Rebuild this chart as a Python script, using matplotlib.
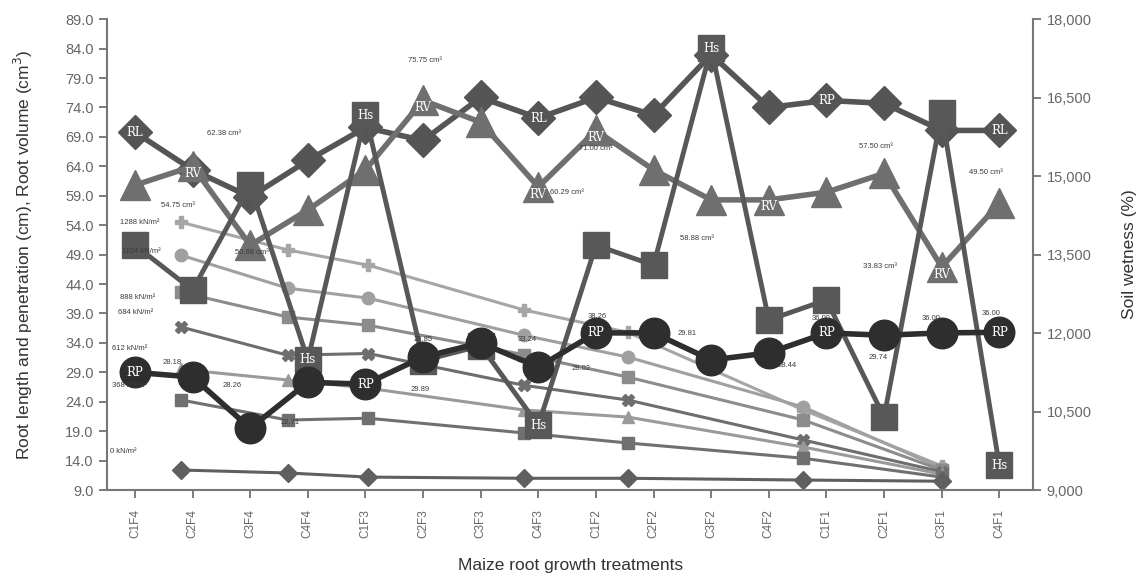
import numpy as np
import matplotlib
matplotlib.use('Agg')
import matplotlib.pyplot as plt
from matplotlib.ticker import FuncFormatter

plt.rcParams['font.family'] = ['Liberation Sans', 'DejaVu Sans']

# Perlakuan (sumbu x)
treatments = ['C1F4', 'C2F4', 'C3F4', 'C4F4', 'C1F3', 'C2F3', 'C3F3', 'C4F3',
              'C1F2', 'C2F2', 'C3F2', 'C4F2', 'C1F1', 'C2F1', 'C3F1', 'C4F1']

# Seri utama
root_length = [69.8, 63.4, 58.8, 65.0, 70.6, 68.4, 75.7, 72.2,
               75.7, 72.7, 83.0, 74.0, 75.2, 74.7, 70.1, 70.1]
root_volume = [60.8, 64.0, 50.6, 56.6, 63.4, 75.2, 71.5, 60.5,
               70.1, 63.4, 58.3, 58.3, 59.6, 62.8, 46.9, 57.7]
soil_hs = [50.6, 43.0, 60.8, 31.1, 72.7, 31.0, 33.5, 20.0,
           50.6, 47.2, 84.1, 37.9, 41.3, 21.4, 73.0, 13.2]
root_pen = [29.0, 28.2, 19.5, 27.3, 27.0, 31.6, 34.0, 29.9,
            35.7, 35.7, 31.1, 32.3, 35.7, 35.3, 35.7, 35.8]

# Garis tahanan penetrasi (posisi titik pada skala perlakuan)
pen_x = [0.8, 2.65, 4.05, 6.75, 8.55, 11.6, 14.0]
pen_labels = ['1288 kN/m²', '1104 kN/m²', '888 kN/m²', '684 kN/m²',
              '612 kN/m²', '368 kN/m²', '0 kN/m²']
pen_values = [
    [54.5, 49.8, 47.2, 39.6, 35.8, 22.6, 13.1],
    [48.9, 43.3, 41.6, 35.3, 31.6, 23.1, 12.7],
    [42.6, 38.4, 37.0, 32.0, 28.2, 20.9, 12.4],
    [36.7, 31.9, 32.2, 26.8, 24.3, 17.5, 12.1],
    [29.5, 27.7, 26.3, 22.6, 21.4, 16.3, 11.7],
    [24.3, 20.9, 21.2, 18.7, 17.0, 14.4, 11.2],
    [12.4, 11.9, 11.2, 11.0, 11.0, 10.7, 10.5],
]
pen_markers = ['P', 'o', 's', 'X', '^', 's', 'D']
pen_colors = ['#a6a6a6', '#a0a0a0', '#8c8c8c', '#6e6e6e', '#9a9a9a', '#707070', '#5f5f5f']

fig = plt.figure(figsize=(11.38, 5.82), dpi=100)
ax = fig.add_axes([0.094, 0.158, 0.814, 0.809])
x = np.arange(len(treatments))

for vals, mk, col in zip(pen_values, pen_markers, pen_colors):
    ax.plot(pen_x, vals, color=col, lw=2.2, marker=mk, ms=9, mec=col, zorder=2)

ax.plot(x, root_length, color='#555555', lw=4, marker='D', ms=17, zorder=3)
ax.plot(x, root_volume, color='#6f6f6f', lw=4, marker='^', ms=22, zorder=4)
ax.plot(x, soil_hs, color='#585858', lw=3.5, marker='s', ms=19, zorder=5)
ax.plot(x, root_pen, color='#2e2e2e', lw=4, marker='o', ms=22, zorder=6)

# Tulisan di dalam penanda
inner = {'family': 'DejaVu Serif', 'color': 'white', 'fontsize': 8.5,
         'ha': 'center', 'va': 'center'}
for i in [0, 7, 15]:
    ax.text(i, root_length[i], 'RL', zorder=7, **inner)
ax.text(12, root_length[12], 'RP', zorder=7, **inner)
for i in [1, 5, 7, 8, 11, 14]:
    ax.text(i, root_volume[i] - 1.2, 'RV', zorder=7, **inner)
for i in [3, 4, 7, 10, 15]:
    ax.text(i, soil_hs[i], 'Hs', zorder=7, **inner)
for i in [0, 4, 8, 12, 15]:
    ax.text(i, root_pen[i], 'RP', zorder=7, **inner)

# Anotasi nilai kecil
small = {'fontsize': 5.5, 'color': '#3a3a3a', 'zorder': 8}
notes = [
    (1.25, 69.6, '62.38 cm³', 'left'), (0.45, 57.4, '54.75 cm³', 'left'),
    (5.03, 82.0, '75.75 cm³', 'center'), (2.03, 49.4, '50.88 cm³', 'center'),
    (8.0, 67.1, '71.00 cm³', 'center'), (7.2, 59.6, '60.29 cm³', 'left'),
    (9.76, 51.8, '58.88 cm³', 'center'), (12.85, 67.3, '57.50 cm³', 'center'),
    (14.76, 63.0, '49.50 cm³', 'center'), (12.93, 46.9, '33.83 cm³', 'center'),
    (0.64, 30.7, '28.18', 'center'), (1.68, 26.8, '28.26', 'center'),
    (2.7, 20.5, '22.71', 'center'), (5.0, 34.6, '29.85', 'center'),
    (4.95, 26.1, '29.89', 'center'), (6.8, 34.6, '33.24', 'center'),
    (7.75, 29.6, '28.02', 'center'), (8.03, 38.5, '38.26', 'center'),
    (9.58, 35.6, '29.81', 'center'), (11.32, 30.1, '28.44', 'center'),
    (11.9, 38.2, '36.00', 'center'), (12.9, 31.5, '29.74', 'center'),
    (13.81, 38.2, '36.00', 'center'), (14.85, 39.0, '36.00', 'center'),
]
for nx, ny, s, ha in notes:
    ax.text(nx, ny, s, ha=ha, va='center', **small)

lab_y = [54.5, 49.6, 41.8, 39.1, 33.0, 26.8, 15.6]
lab_x = [-0.26, -0.23, -0.26, -0.3, -0.4, -0.4, -0.43]
for lx, ly, s in zip(lab_x, lab_y, pen_labels):
    ax.text(lx, ly, s, ha='left', va='center', **small)

# Sumbu
ax.set_xlim(-0.486, 15.59)
ax.set_ylim(9, 89)
ax.set_yticks(np.arange(9, 90, 5))
ax.yaxis.set_major_formatter(FuncFormatter(lambda v, p: f'{v:.1f}'))
ax.set_xticks(x)
ax.set_xticklabels(treatments, rotation=90, fontsize=8.5, color='#777777')
ax.tick_params(axis='y', labelsize=10.5, colors='#666666', length=6, width=1.2)
ax.tick_params(axis='x', length=6, width=1.2, colors='#666666', pad=8)
for sp in ['top', 'right']:
    ax.spines[sp].set_visible(False)
for sp in ['left', 'bottom']:
    ax.spines[sp].set_color('#777777')
    ax.spines[sp].set_linewidth(1.5)

ax2 = ax.twinx()
ax2.set_ylim(9000, 18000)
ax2.set_yticks(np.arange(9000, 18001, 1500))
ax2.yaxis.set_major_formatter(FuncFormatter(lambda v, p: f'{int(v):,}'))
ax2.tick_params(axis='y', labelsize=10.5, colors='#666666', length=6, width=1.2)
for sp in ['top', 'left', 'bottom']:
    ax2.spines[sp].set_visible(False)
ax2.spines['right'].set_color('#777777')
ax2.spines['right'].set_linewidth(1.5)

ax.set_ylabel('Root length and penetration (cm), Root volume (cm$^3$)',
              fontsize=12.5, color='#333333', labelpad=22)
ax2.set_ylabel('Soil wetness (%)', fontsize=12.5, color='#333333', labelpad=22)
ax.set_xlabel('Maize root growth treatments', fontsize=12.5, color='#333333', labelpad=14)

plt.savefig('out.png', dpi=100)
